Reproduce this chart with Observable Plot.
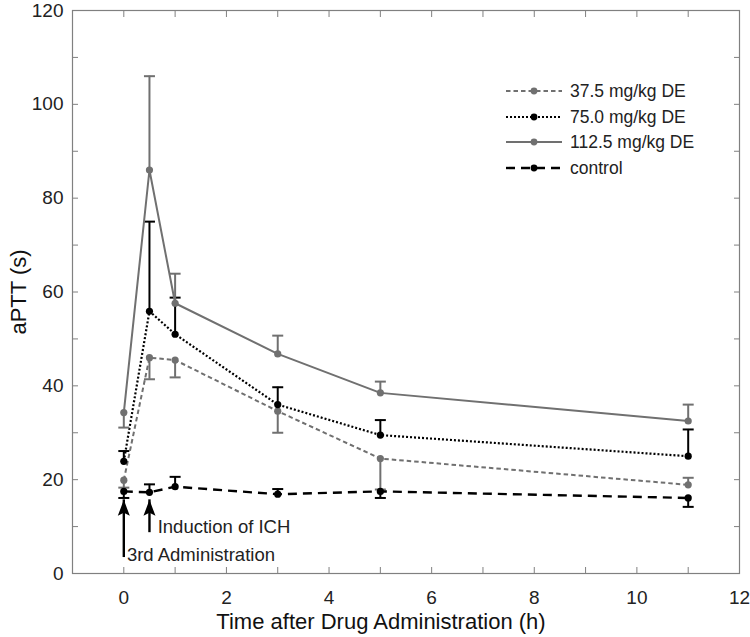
<!DOCTYPE html>
<html>
<head>
<meta charset="utf-8">
<script src="https://cdn.jsdelivr.net/npm/d3@7"></script>
<script src="https://cdn.jsdelivr.net/npm/@observablehq/plot@0.6"></script>
<style>
  body { margin: 0; background: #fff; }
  #wrap { position: relative; width: 750px; height: 637px; font-family: "Liberation Sans", Arial, sans-serif; }
  #legend { position: absolute; left: 0; top: 0; pointer-events: none; }
</style>
</head>
<body>
<div id="wrap"></div>
<script>
// ---- data ----
const times = [0, 0.5, 1, 3, 5, 11];
const seriesNames = ["37.5 mg/kg DE", "75.0 mg/kg DE", "112.5 mg/kg DE", "control"];
const v375  = [19.9, 46.0, 45.5, 34.6, 24.5, 18.9];
const e375  = [18.3, 41.4, 41.8, 30.0, 17.9, 20.4];   // error-bar end values
const v750  = [23.9, 55.9, 51.0, 36.0, 29.5, 25.0];
const e750  = [26.1, 75.0, 58.8, 39.7, 32.7, 30.7];
const v1125 = [34.3, 86.0, 57.6, 46.8, 38.5, 32.5];
const e1125 = [31.1, 106.0, 63.9, 50.7, 40.9, 36.0];
const vCtl  = [17.5, 17.3, 18.5, 16.9, 17.5, 16.1];
const eCtl  = [16.1, 19.0, 20.6, 18.0, 16.1, 14.2];

const yTicks = [0, 10, 20, 30, 40, 50, 60, 70, 80, 90, 100, 110, 120];
const xTicks = [0, 1, 2, 3, 4, 5, 6, 7, 8, 9, 10, 11, 12];

// annotations
const arrowX    = [0, 0.5];
const arrowFrom = [3.4, 8.7];
const arrowTo   = [15.7, 15.7];
const noteText  = ["3rd Administration", "Induction of ICH"];
const noteX     = [0.06, 0.66];
const noteY     = [4.0, 9.9];

// ---- styles per series ----
const styles = {
  "37.5 mg/kg DE":  {color: "#707070", dash: "4.5,3", width: 2},
  "75.0 mg/kg DE":  {color: "#000000", dash: "2,2",   width: 2.2},
  "112.5 mg/kg DE": {color: "#707070", dash: null,    width: 2},
  "control":        {color: "#000000", dash: "9,6",   width: 2.4}
};

const valueSets = [v375, v750, v1125, vCtl];
const errSets = [e375, e750, e1125, eCtl];
const rows = [];
seriesNames.forEach((name, i) => {
  times.forEach((t, j) => rows.push({series: name, t, v: valueSets[i][j], e: errSets[i][j]}));
});
const arrows = arrowX.map((x, i) => ({x, y1: arrowFrom[i], y2: arrowTo[i]}));
const notes = noteText.map((s, i) => ({s, x: noteX[i], y: noteY[i]}));

const capSymbol = {draw(ctx) { ctx.moveTo(-5.5, 0); ctx.lineTo(5.5, 0); }};
const headSymbol = {draw(ctx) { ctx.moveTo(0, 0); ctx.lineTo(-6, 16); ctx.lineTo(0, 13); ctx.lineTo(6, 16); ctx.closePath(); }};

const marks = [
  Plot.frame({stroke: "#808080", strokeWidth: 1.2}),
  // ticks (inward) on all sides
  Plot.axisY({ticks: yTicks, tickSize: -6, tickFormat: () => "", stroke: "#808080", label: null}),
  Plot.axisY({ticks: yTicks, anchor: "right", tickSize: -6, tickFormat: () => "", stroke: "#808080", label: null}),
  Plot.axisX({ticks: xTicks, tickSize: -6, tickFormat: () => "", stroke: "#808080", label: null}),
  Plot.axisX({ticks: xTicks, anchor: "top", tickSize: -6, tickFormat: () => "", stroke: "#808080", label: null}),
  // tick labels
  Plot.axisY({ticks: yTicks.filter(d => d % 20 === 0), tickSize: 0, tickPadding: 9, fill: "#222", fontSize: 19, label: null}),
  Plot.axisX({ticks: xTicks.filter(d => d % 2 === 0), tickSize: 0, tickPadding: 17, fill: "#222", fontSize: 19, label: null}),
  // axis titles
  Plot.text(["aPTT (s)"], {frameAnchor: "left", dx: -54, rotate: -90, textAnchor: "middle", lineAnchor: "middle", fontSize: 22, fill: "#111"}),
  Plot.text(["Time after Drug Administration (h)"], {frameAnchor: "bottom", dy: 48, dx: -25, textAnchor: "middle", lineAnchor: "middle", fontSize: 22, fill: "#111"})
];

seriesNames.forEach(name => {
  const st = styles[name];
  const data = rows.filter(r => r.series === name);
  marks.push(
    Plot.ruleX(data, {x: "t", y1: "v", y2: "e", stroke: st.color, strokeWidth: 2}),
    Plot.dot(data, {x: "t", y: "e", symbol: capSymbol, r: 3, stroke: st.color, strokeWidth: 2, fill: "none"}),
    Plot.line(data, {x: "t", y: "v", stroke: st.color, strokeWidth: st.width, strokeDasharray: st.dash, strokeLinecap: "butt"}),
    Plot.dot(data, {x: "t", y: "v", r: 3.6, fill: st.color, stroke: "none"})
  );
});

marks.push(
  Plot.ruleX(arrows, {x: "x", y1: "y1", y2: "y2", stroke: "#000", strokeWidth: 2.4}),
  Plot.dot(arrows, {x: "x", y: "y2", symbol: headSymbol, r: 4, fill: "#000", stroke: "none"}),
  Plot.text(notes, {x: "x", y: "y", text: "s", textAnchor: "start", fontSize: 18.5, fill: "#222"})
);

const chart = Plot.plot({
  width: 750,
  height: 637,
  marginLeft: 72,
  marginRight: 11,
  marginTop: 10,
  marginBottom: 64,
  style: {fontFamily: "'Liberation Sans', Arial, sans-serif", fontSize: "19px", background: "#fff"},
  x: {domain: [-1, 12]},
  y: {domain: [0, 120]},
  marks
});
document.getElementById("wrap").appendChild(chart);

// ---- legend overlay ----
const lg = d3.select("#wrap").append("svg").attr("id", "legend").attr("width", 750).attr("height", 637);
const legendRowY = [91, 117, 142, 168];
seriesNames.forEach((name, i) => {
  const st = styles[name];
  const g = lg.append("g").attr("transform", `translate(0,${legendRowY[i]})`);
  g.append("line").attr("x1", 506).attr("x2", 562).attr("y1", 0).attr("y2", 0)
    .attr("stroke", st.color).attr("stroke-width", st.width)
    .attr("stroke-dasharray", st.dash);
  g.append("circle").attr("cx", 534).attr("cy", 0).attr("r", 3.4).attr("fill", st.color);
  g.append("text").attr("x", 570).attr("y", 0).attr("dy", "0.35em")
    .attr("font-family", "'Liberation Sans', Arial, sans-serif").attr("font-size", 17.5)
    .attr("fill", "#222").text(name);
});
</script>
</body>
</html>
